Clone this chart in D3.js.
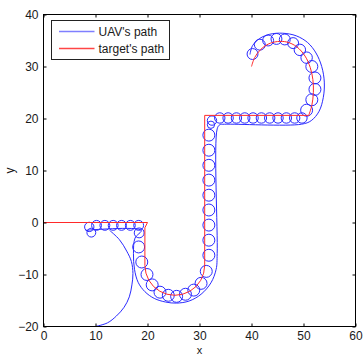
<!DOCTYPE html>
<html><head><meta charset="utf-8">
<script src="https://cdn.jsdelivr.net/npm/d3@7/dist/d3.min.js"></script>
<style>
html,body{margin:0;padding:0;background:#fff;}
svg{display:block;font-family:"Liberation Sans",Arial,sans-serif;}
</style></head>
<body>
<svg id="chart" width="363" height="354"></svg>
<script>
// ---- data ----
const xTicks = [0, 10, 20, 30, 40, 50, 60];
const yTicks = [-20, -10, 0, 10, 20, 30, 40];
const seriesNames = ["UAV's path", "target's path"];

// target's path: straight parts and curved parts
const targetLeg1 = [[0,0],[20,0],[19.5,-1],[19.5,-8.25]];
const targetTurnU = [[19.5,-8.25],[19.70,-9.74],[20.27,-11.13],[21.18,-12.32],[22.38,-13.23],[23.76,-13.80],[25.25,-14.0],
  [26.74,-13.80],[28.13,-13.23],[29.32,-12.32],[30.23,-11.13],[30.80,-9.74],[31.0,-8.25]];
const targetLeg2 = [[31,-8.25],[31,20.6],[51,20.6]];
const targetHook = [[51,20.6],[51.6,22.5],[51.9,25],[51.8,27.5],[51.3,29.8],[50.3,32],[48.7,33.8],[46.8,34.7],
  [45,34.8],[43.2,34.3],[41.7,33.2],[40.6,31.7],[40,30]];

// UAV's path: approach arc, outer track and loiter loops (x, y, radius in data units)
const uavApproach = [[10,-20],[12.3,-19.3],[14,-18],[15.5,-16.3],[16.5,-14.3],[17.0,-12],[17.2,-9.8],
  [16.9,-7.5],[16.0,-5.5],[14.6,-3.3],[12.7,-1.5]];
const uavTrack = [[8.1,-1.5],[18.8,-1.5],[17.6,-3],[17.3,-6],[17.5,-9],[18.2,-11.5],[19.5,-13.3],[21.3,-14.6],
  [23.5,-15.3],[25.6,-15.5],[28,-15.1],[30.3,-13.8],[32.2,-11.6],[33.2,-9],[33.4,-6],[33.4,18],[33.9,18.8],
  [34.8,18.9],[49.6,18.9],[51.5,19.6],[53,21.4],[53.8,24],[54,27],[53.5,30],[52.4,32.6],[50.8,34.6],
  [48.6,35.9],[46,36.4],[43.5,36.2],[41.6,35.4],[40.2,34],[39.7,32.3]];
const uavLoops = [
  {x:8.8,y:-0.85,r:0.9},{x:9.2,y:-1.95,r:0.85},{x:10.2,y:-0.55,r:0.95},{x:11.8,y:-0.55,r:0.95},
  {x:13.4,y:-0.55,r:0.95},{x:15.0,y:-0.55,r:0.95},{x:16.7,y:-0.55,r:0.95},{x:18.3,y:-0.55,r:0.95},
  {x:18.4,y:-2.0,r:0.95},{x:18.3,y:-4.7,r:1.15},{x:18.9,y:-7.6,r:1.15},{x:19.9,y:-10.0,r:1.15},
  {x:20.9,y:-12.0,r:1.15},{x:22.4,y:-13.4,r:1.15},{x:24.0,y:-14.0,r:1.15},{x:25.6,y:-14.2,r:1.15},
  {x:27.3,y:-13.8,r:1.15},{x:28.9,y:-13.0,r:1.15},{x:30.3,y:-11.7,r:1.15},{x:31.3,y:-9.4,r:1.15},
  {x:31.8,y:-6.3,r:1.15},{x:31.8,y:-3.4,r:1.15},{x:31.8,y:-0.5,r:1.15},{x:31.8,y:2.4,r:1.15},
  {x:31.8,y:5.25,r:1.15},{x:31.8,y:8.15,r:1.15},{x:31.8,y:11.0,r:1.15},{x:31.8,y:13.9,r:1.15},
  {x:31.8,y:16.8,r:1.15},{x:32.4,y:19.6,r:0.9},{x:32.2,y:18.8,r:0.7},
  {x:33.9,y:20.1,r:1.0},{x:35.5,y:20.1,r:1.0},{x:37.1,y:20.1,r:1.0},{x:38.7,y:20.1,r:1.0},
  {x:40.3,y:20.1,r:1.0},{x:41.9,y:20.1,r:1.0},{x:43.5,y:20.1,r:1.0},{x:45.1,y:20.1,r:1.0},
  {x:46.7,y:20.1,r:1.0},{x:48.3,y:20.1,r:1.0},{x:49.7,y:20.1,r:1.0},
  {x:50.6,y:21.6,r:1.15},{x:51.6,y:23.6,r:1.15},{x:52.2,y:25.6,r:1.15},{x:52.2,y:27.8,r:1.15},
  {x:51.6,y:30.0,r:1.15},{x:50.6,y:31.7,r:1.1},{x:49.3,y:33.2,r:1.1},{x:48.0,y:34.5,r:1.05},
  {x:46.4,y:35.2,r:1.05},{x:44.8,y:35.3,r:1.05},{x:43.2,y:35.0,r:1.05},{x:41.6,y:34.2,r:1.05},
  {x:40.2,y:32.4,r:1.05}
];

// ---- drawing ----
const svg = d3.select("#chart");
const L = 43.5, R = 355.5, T = 14.5, B = 326.5;
const x = d3.scaleLinear().domain([0, 60]).range([L, R]);
const y = d3.scaleLinear().domain([-20, 40]).range([B, T]);

const blue = "#2a2aff", red = "#ff2a2a";

svg.append("rect").attr("x", L).attr("y", T).attr("width", R - L).attr("height", B - T)
  .attr("fill", "#fff");

const g = svg.append("g");
const lin = d3.line().x(d => x(d[0])).y(d => y(d[1]));
const smooth = d3.line().x(d => x(d[0])).y(d => y(d[1])).curve(d3.curveCatmullRom.alpha(0.5));

// UAV
g.append("path").attr("d", smooth(uavApproach)).attr("fill", "none").attr("stroke", blue).attr("stroke-width", 1);
g.append("path").attr("d", smooth(uavTrack)).attr("fill", "none").attr("stroke", blue).attr("stroke-width", 1);
g.selectAll("circle.loop").data(uavLoops).join("circle").attr("class", "loop")
  .attr("cx", d => x(d.x)).attr("cy", d => y(d.y)).attr("r", d => x(d.r) - x(0))
  .attr("fill", "none").attr("stroke", blue).attr("stroke-width", 1);

// target
[targetLeg1, targetTurnU, targetLeg2].forEach(seg =>
  g.append("path").attr("d", lin(seg)).attr("fill", "none").attr("stroke", red).attr("stroke-width", 1));
g.append("path").attr("d", smooth(targetHook)).attr("fill", "none").attr("stroke", red).attr("stroke-width", 1);

// axes (MATLAB style, ticks inside on all four sides)
const axisColor = "#000";
const tickLen = 3;
const ax = svg.append("g");
ax.append("g").attr("transform", `translate(0,${B})`)
  .call(d3.axisBottom(x).tickValues(xTicks).tickSize(-tickLen).tickPadding(5).tickFormat(d3.format("d")))
  .call(s => s.select(".domain").remove());
ax.append("g").attr("transform", `translate(0,${T})`)
  .call(d3.axisTop(x).tickValues(xTicks).tickSize(-tickLen).tickFormat(""))
  .call(s => s.select(".domain").remove());
ax.append("g").attr("transform", `translate(${L},0)`)
  .call(d3.axisLeft(y).tickValues(yTicks).tickSize(-tickLen).tickPadding(5).tickFormat(d3.format("d")))
  .call(s => s.select(".domain").remove());
ax.append("g").attr("transform", `translate(${R},0)`)
  .call(d3.axisRight(y).tickValues(yTicks).tickSize(-tickLen).tickFormat(""))
  .call(s => s.select(".domain").remove());
ax.selectAll("text").attr("font-size", 12).attr("fill", "#1a1a1a")
  .attr("font-family", '"Liberation Sans", Arial, sans-serif');
ax.selectAll(".tick line").attr("stroke", axisColor);
svg.append("rect").attr("x", L).attr("y", T).attr("width", R - L).attr("height", B - T)
  .attr("fill", "none").attr("stroke", axisColor).attr("stroke-width", 1);

// axis labels
svg.append("text").attr("x", x(30)).attr("y", 353.5).attr("text-anchor", "middle")
  .attr("font-size", 11).attr("fill", "#1a1a1a").text("x");
svg.append("text").attr("transform", `translate(14,${y(10)}) rotate(-90)`).attr("text-anchor", "middle")
  .attr("font-size", 12).attr("fill", "#1a1a1a").text("y");

// legend
const lg = svg.append("g");
lg.append("rect").attr("x", 51.5).attr("y", 20.5).attr("width", 118).attr("height", 39)
  .attr("fill", "#fff").attr("stroke", "#222").attr("stroke-width", 1);
const legColors = ["#7f7fff", "#ff4545"];
seriesNames.forEach((name, i) => {
  const yy = 31.5 + i * 17;
  lg.append("line").attr("x1", 59).attr("x2", 94.5).attr("y1", yy).attr("y2", yy)
    .attr("stroke", legColors[i]).attr("stroke-width", 1.6);
  lg.append("text").attr("x", 98.5).attr("y", yy).attr("dy", "0.35em")
    .attr("font-size", 12).attr("fill", "#1a1a1a").text(name);
});
</script>
</body></html>
